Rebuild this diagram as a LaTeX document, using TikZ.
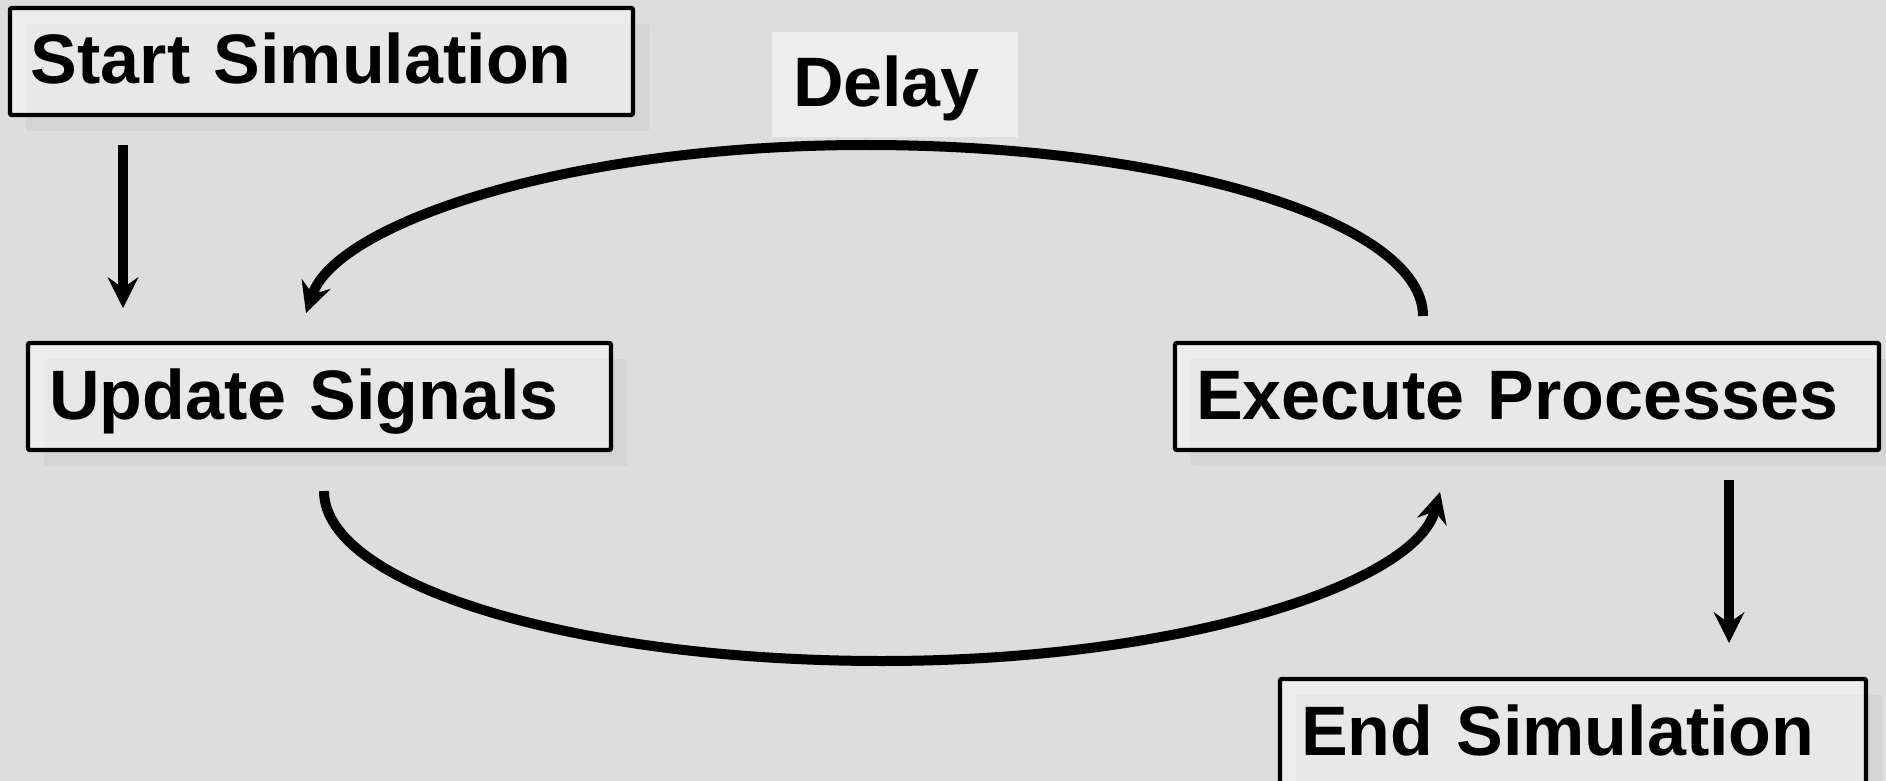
\documentclass[tikz,border=0pt]{standalone}
\usepackage{fontspec}
\setmainfont{Liberation Sans}
\usetikzlibrary{arrows.meta,shadows}
\definecolor{bgc}{RGB}{221,221,221}
\definecolor{delayc}{RGB}{238,238,238}
\begin{document}
\begin{tikzpicture}[x=0.5pt,y=-0.5pt,
  box/.style={draw=black, line width=2.2pt, rounded corners=1pt,
    fill=white, fill opacity=0.47, draw opacity=1, text opacity=1,
    inner xsep=10.5pt, inner ysep=0pt, minimum height=53.5pt,
    text height=25pt, text depth=2.5pt, align=left,
    font=\fontsize{35pt}{42pt}\selectfont\bfseries,
    drop shadow={shadow xshift=8pt, shadow yshift=-8pt, fill=black!17, draw=none, opacity=1}},
  delaybox/.style={fill=delayc, draw=none, inner xsep=10.5pt, inner ysep=0pt,
    minimum height=52.5pt, text height=25pt, text depth=2.5pt, align=left,
    font=\fontsize{35pt}{42pt}\selectfont\bfseries},
  arr/.style={line width=5pt, draw=black,
    -{Stealth[length=15.5pt, width=15.5pt, inset=5.5pt, line width=0.5pt]}}]
\useasboundingbox (0,0) rectangle (1886,781);
\fill[bgc] (0,0) rectangle (1886,781);

\node[box, text width=290.5pt] (start) at (321.5,61.5) {Start Simulation};
\node[box, text width=270.5pt] (update) at (319.5,396.5) {Update Signals};
\node[box, text width=331pt] (exec) at (1527,396.5) {Execute Processes};
\node[box, text width=272pt] (endsim) at (1573,732.5) {End Simulation};
\node[delaybox, text width=102pt] (delay) at (895,84.5) {Delay};

\coordinate (a1s) at (123,145);
\coordinate (a1e) at (123,308);
\coordinate (a2s) at (1729,480);
\coordinate (a2e) at (1729,643);
\coordinate (ds) at (1423,316);
\coordinate (dt) at (866,145);
\coordinate (de) at (306,313);
\coordinate (bs) at (324,491);
\coordinate (bb) at (882,661);
\coordinate (be) at (1440,492);

\draw[arr] (a1s) -- (a1e);
\draw[arr] (a2s) -- (a2e);
\draw[arr] (ds) .. controls (1423,222) and (1173,145) .. (dt)
  .. controls (566,145) and (337,224) .. (de);
\draw[arr] (bs) .. controls (324,585) and (574,661) .. (bb)
  .. controls (1183,661) and (1415,583) .. (be);
\end{tikzpicture}
\end{document}
